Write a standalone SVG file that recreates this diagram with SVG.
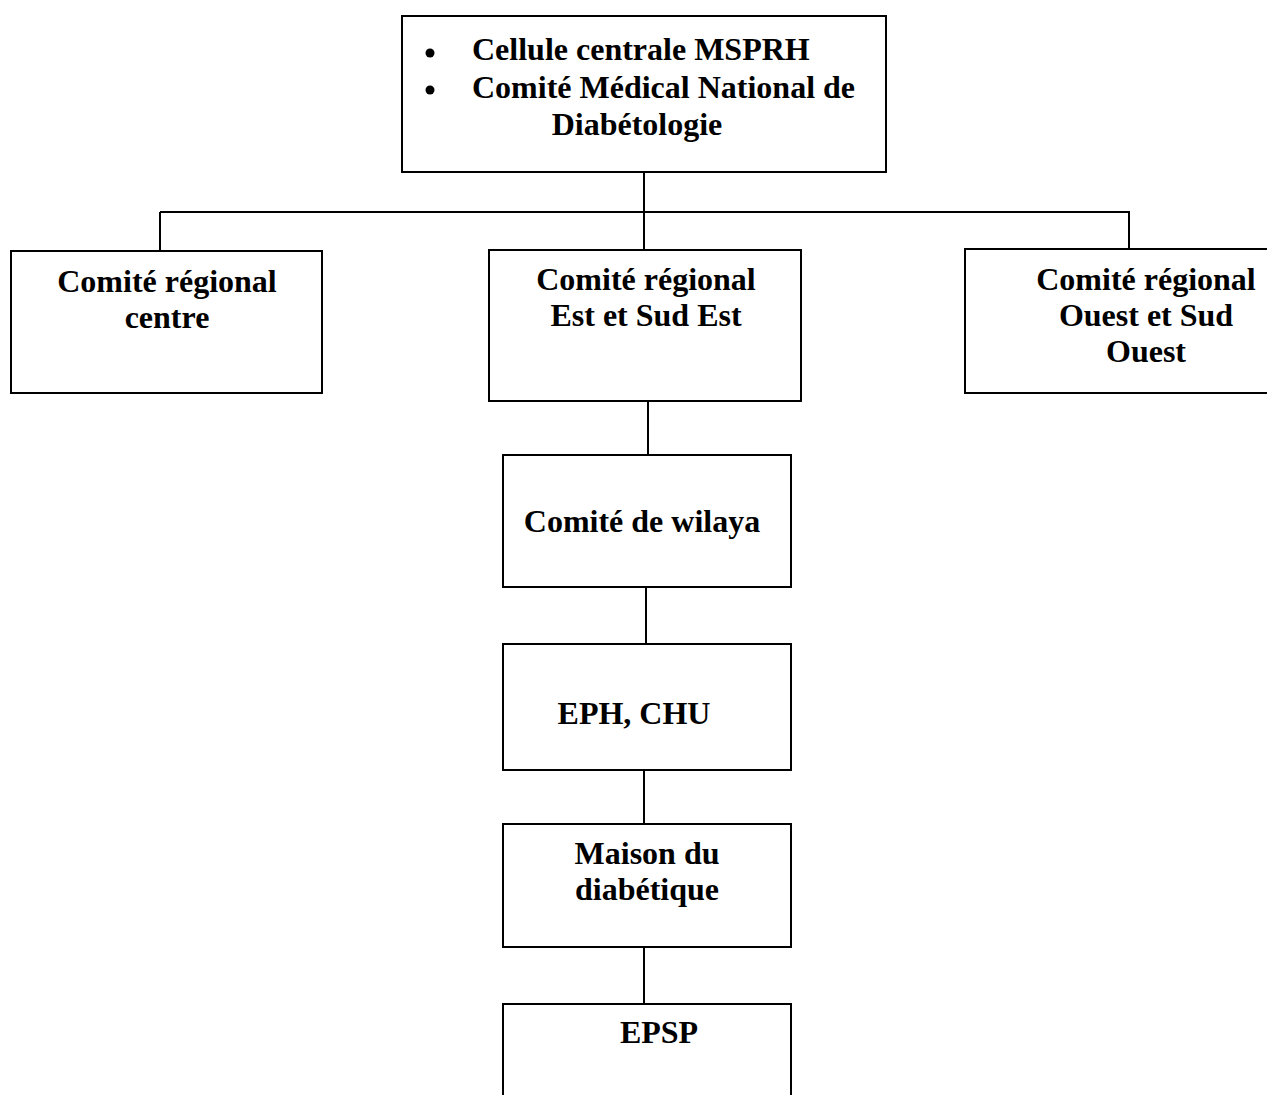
<svg xmlns="http://www.w3.org/2000/svg" width="1267" height="1095" viewBox="0 0 1267 1095">
<style>
.box{fill:#fff;stroke:#000;stroke-width:2}
.ln{stroke:#000;stroke-width:2;fill:none}
text{font-family:"Liberation Serif","Times New Roman",serif;font-weight:bold;font-size:32px;fill:#000}
.c{text-anchor:middle}
</style>
<rect width="1267" height="1095" fill="#fff"/>
<g id="connectors">
<line class="ln" x1="644" y1="172" x2="644" y2="250"/>
<line class="ln" x1="160" y1="212" x2="1130" y2="212"/>
<line class="ln" x1="160" y1="212" x2="160" y2="251"/>
<line class="ln" x1="1129" y1="212" x2="1129" y2="249"/>
<line class="ln" x1="648" y1="401" x2="648" y2="455"/>
<line class="ln" x1="646" y1="587" x2="646" y2="644"/>
<line class="ln" x1="644" y1="768" x2="644" y2="824"/>
<line class="ln" x1="644" y1="947" x2="644" y2="1004"/>
</g>
<g id="node-top">
<rect class="box" x="402" y="16" width="484" height="156"/>
<circle cx="430" cy="53" r="4.5"/>
<circle cx="430" cy="90" r="4.5"/>
<text x="472" y="60">Cellule centrale MSPRH</text>
<text x="472" y="98">Comité Médical National de</text>
<text class="c" x="637" y="135">Diabétologie</text>
</g>
<g id="node-centre">
<rect class="box" x="11" y="251" width="311" height="142"/>
<text class="c" x="167" y="292">Comité régional</text>
<text class="c" x="167" y="328">centre</text>
</g>
<g id="node-est">
<rect class="box" x="489" y="250" width="312" height="151"/>
<text class="c" x="646" y="290">Comité régional</text>
<text class="c" x="646" y="326">Est et Sud Est</text>
</g>
<g id="node-ouest">
<rect class="box" x="965" y="249" width="310" height="144"/>
<text class="c" x="1146" y="290">Comité régional</text>
<text class="c" x="1146" y="326">Ouest et Sud</text>
<text class="c" x="1146" y="362">Ouest</text>
</g>
<g id="node-wilaya">
<rect class="box" x="503" y="455" width="288" height="132"/>
<text class="c" x="642" y="532">Comité de wilaya</text>
</g>
<g id="node-eph">
<rect class="box" x="503" y="644" width="288" height="126"/>
<text class="c" x="634" y="724">EPH, CHU</text>
</g>
<g id="node-maison">
<rect class="box" x="503" y="824" width="288" height="123"/>
<text class="c" x="647" y="864">Maison du</text>
<text class="c" x="647" y="900">diabétique</text>
</g>
<g id="node-epsp">
<path class="ln" d="M503,1100 V1004 H791 V1100"/>
<text class="c" x="659" y="1043">EPSP</text>
</g>
</svg>
